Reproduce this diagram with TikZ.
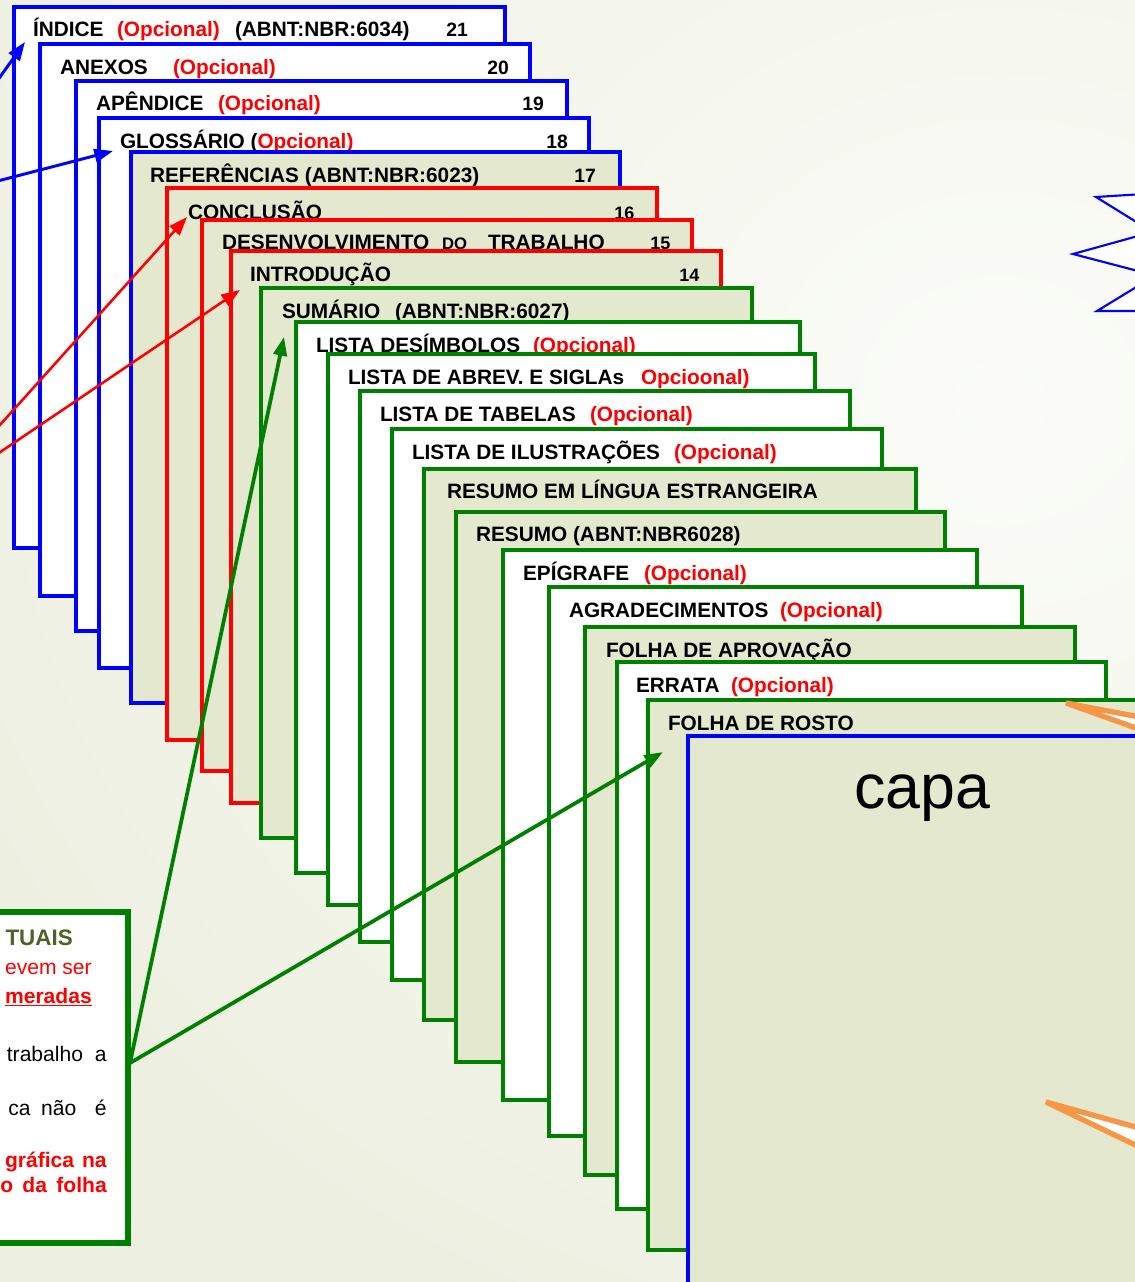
\documentclass[tikz,border=0pt]{standalone}
\usepackage{fontspec}
\setmainfont{Liberation Sans}
\usetikzlibrary{arrows.meta}
\definecolor{pgfill}{RGB}{227,232,206}
\definecolor{bgin}{RGB}{251,252,248}
\definecolor{bgout}{RGB}{237,240,225}
\definecolor{myblue}{RGB}{0,0,255}
\definecolor{myred}{RGB}{255,0,0}
\definecolor{mygreen}{RGB}{0,128,0}
\definecolor{myorange}{RGB}{247,150,70}
\definecolor{myolive}{RGB}{79,98,40}
\tikzset{
  pgw/.style={draw=#1, fill=white, line width=3.2pt},
  pgg/.style={draw=#1, fill=pgfill, line width=3.2pt},
  lbl/.style={anchor=base west, inner sep=0pt, outer sep=0pt, font=\fontsize{15.6}{18}\selectfont\bfseries},
  opc/.style={lbl, text=myred},
  num/.style={anchor=base west, inner sep=0pt, font=\fontsize{14.5}{17}\selectfont\bfseries},
  smallnum/.style={anchor=base west, inner sep=0pt, font=\fontsize{13.5}{16}\selectfont\bfseries},
  arr/.style={line width=#1, -{Triangle[length=14pt,width=10pt]}},
  boxtxt/.style={anchor=base east, inner sep=0pt, font=\fontsize{15.8}{18}\selectfont},
  wedge/.style={draw=myorange, fill=white, line width=4pt, line join=bevel},
}
\begin{document}
\begin{tikzpicture}[x=0.75pt,y=-0.75pt]
\useasboundingbox (0,0) rectangle (1135,1282);
\clip (0,0) rectangle (1135,1282);
\shade[inner color=bgin, outer color=bgout] (-135,-600) rectangle (2135,1400);

% pages, back to front
\path[pgw=myblue] (14,7) rectangle (505,548);
\node[lbl] (t1) at (33,36) {ÍNDICE};
\node[opc] (o1) at (117,36) {(Opcional)};
\node[lbl] (n1) at (235,36) {(ABNT:NBR:6034)};
\node[num] (k1) at (446,36) {21};

\path[pgw=myblue] (40,44) rectangle (530,596);
\node[lbl] (t2) at (60,74) {ANEXOS};
\node[opc] (o2) at (173,74) {(Opcional)};
\node[num] (k2) at (487,74) {20};

\path[pgw=myblue] (76,81) rectangle (567,631);
\node[lbl] (t3) at (96,110) {APÊNDICE};
\node[opc] (o3) at (218,110) {(Opcional)};
\node[num] (k3) at (522,110) {19};

\path[pgw=myblue] (99,118) rectangle (589,668);
\node[lbl] (t4) at (120,148) {GLOSSÁRIO (\textcolor{myred}{Opcional)}};
\node[num] (k4) at (546,148) {18};

\path[pgg=myblue] (131,152) rectangle (620,703);
\node[lbl] (t5) at (150,182) {REFERÊNCIAS (ABNT:NBR:6023)};
\node[num] (k5) at (574,182) {17};

\path[pgg=myred] (167,188) rectangle (657,740);
\node[lbl] (t6) at (188,219) {CONCLUSÃO};
\node[smallnum] (k6) at (614,219) {16};

\path[pgg=myred] (202,220) rectangle (692,771);
\node[lbl] (t7) at (222,249) {DESENVOLVIMENTO};
\node[lbl, font=\fontsize{12.5}{14}\selectfont\bfseries] (t7b) at (442,249) {DO};
\node[lbl] (t7c) at (488,249) {TRABALHO};
\node[smallnum] (k7) at (650,249) {15};

\path[pgg=myred] (231,251) rectangle (721,803);
\node[lbl] (t8) at (250,281) {INTRODUÇÃO};
\node[smallnum] (k8) at (679,281) {14};

\path[pgg=mygreen] (261,288) rectangle (752,838);
\node[lbl] (t9) at (282,318) {SUMÁRIO};
\node[lbl] (t9b) at (395,318) {(ABNT:NBR:6027)};

\path[pgw=mygreen] (296,322) rectangle (800,873);
\node[lbl] (t10) at (316,352) {LISTA DESÍMBOLOS};
\node[opc] (o10) at (533,352) {(Opcional)};

\path[pgw=mygreen] (328,354) rectangle (815,905);
\node[lbl] (t11) at (348,384) {LISTA DE ABREV. E SIGLAs};
\node[opc] (o11) at (641,384) {Opcioonal)};

\path[pgw=mygreen] (360,391) rectangle (850,942);
\node[lbl] (t12) at (380,421) {LISTA DE TABELAS};
\node[opc] (o12) at (590,421) {(Opcional)};

\path[pgw=mygreen] (392,429) rectangle (882,980);
\node[lbl] (t13) at (412,459) {LISTA DE ILUSTRAÇÕES};
\node[opc] (o13) at (674,459) {(Opcional)};

\path[pgg=mygreen] (424,469) rectangle (916,1020);
\node[lbl] (t14) at (447,498) {RESUMO EM LÍNGUA ESTRANGEIRA};

\path[pgg=mygreen] (456,512) rectangle (945,1062);
\node[lbl] (t15) at (476,541) {RESUMO (ABNT:NBR6028)};

\path[pgw=mygreen] (503,550) rectangle (977,1100);
\node[lbl] (t16) at (523,580) {EPÍGRAFE};
\node[opc] (o16) at (644,580) {(Opcional)};

\path[pgw=mygreen] (549,587) rectangle (1022,1136);
\node[lbl] (t17) at (569,617) {AGRADECIMENTOS};
\node[opc] (o17) at (780,617) {(Opcional)};

\path[pgg=mygreen] (585,627) rectangle (1075,1175);
\node[lbl] (t18) at (606,657) {FOLHA DE APROVAÇÃO};

\path[pgw=mygreen] (617,662) rectangle (1106,1209);
\node[lbl] (t19) at (636,692) {ERRATA};
\node[opc] (o19) at (731,692) {(Opcional)};

\path[pgg=mygreen] (648,700) rectangle (1160,1250);
\node[lbl] (t20) at (668,730) {FOLHA DE ROSTO};

\path[pgg=myblue] (688,736) rectangle (1160,1300);
\node[anchor=base, inner sep=0pt, font=\fontsize{47}{50}\selectfont] (capa) at (922,808) {capa};

% star shape at right
\path[draw=myblue, fill=white, line width=1.6pt, line join=miter]
  (1160,193) -- (1096,197) -- (1138,223) -- (1138,236) -- (1073,254)
  -- (1138,271) -- (1138,286) -- (1097,311) -- (1160,311) -- cycle;

% orange callout pointers
\path[wedge] (1066,703) -- (1150,719) -- (1150,733) -- cycle;
\path[wedge] (1046,1102) -- (1150,1131) -- (1150,1152) -- cycle;

% bottom-left text box
\path[draw=mygreen, fill=white, line width=3.8pt] (-20,912) rectangle (128,1243);
\node[boxtxt, font=\fontsize{16.8}{19}\selectfont\bfseries, text=myolive] (b1) at (73,945) {TUAIS};
\node[boxtxt, text=myred] (b2) at (92,974) {evem ser};
\node[boxtxt, text=myred, font=\fontsize{15.8}{18}\selectfont\bfseries] (b3) at (92,1003) {\underline{meradas}};
\node[boxtxt] (b4) at (107,1061) {trabalho\hspace{9pt}a};
\node[boxtxt] (b5) at (107,1115) {ca\hspace{8pt}não\hspace{14pt}é};
\node[boxtxt, text=myred, font=\fontsize{15.8}{18}\selectfont\bfseries] (b6) at (107,1167) {gráfica\hspace{6pt}na};
\node[boxtxt, text=myred, font=\fontsize{15.8}{18}\selectfont\bfseries] (b7) at (107,1192) {o\hspace{7pt}da\hspace{7pt}folha};

% connector end points
\coordinate (a1s) at (-10,91);
\coordinate (a1e) at (25,42);
\coordinate (a2s) at (-10,183);
\coordinate (a2e) at (113,151);
\coordinate (r1s) at (-10,436);
\coordinate (r1e) at (187,217);
\coordinate (r2s) at (-10,459);
\coordinate (r2e) at (240,290);
\coordinate (gs) at (130,1063);
\coordinate (g1e) at (284,337);
\coordinate (g2e) at (663,752);

\draw[arr=2.2pt, myblue] (a1s) -- (a1e);
\draw[arr=2.2pt, myblue] (a2s) -- (a2e);
\draw[arr=1.9pt, myred] (r1s) -- (r1e);
\draw[arr=1.9pt, myred] (r2s) -- (r2e);
\draw[arr=2.8pt, mygreen] (gs) -- (g1e);
\draw[arr=2.8pt, mygreen] (gs) -- (g2e);
\end{tikzpicture}
\end{document}
